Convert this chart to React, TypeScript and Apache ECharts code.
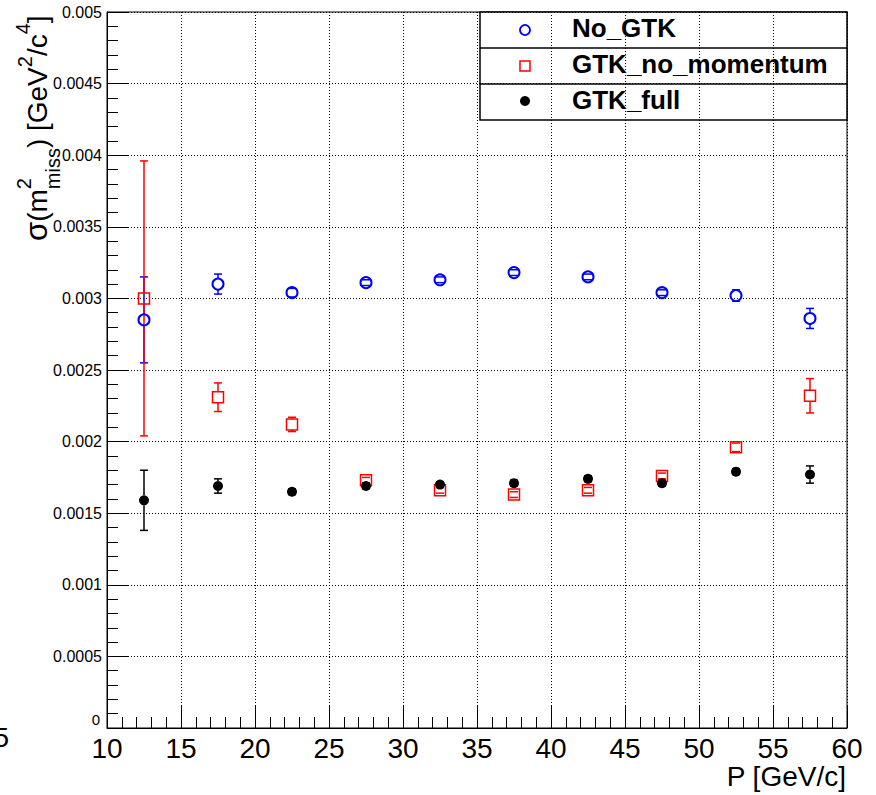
import React, { useEffect, useRef } from "react";
import * as echarts from "echarts";

// ---- data ----
const momentum = [12.5, 17.5, 22.5, 27.5, 32.5, 37.5, 42.5, 47.5, 52.5, 57.5];
const noGTK = [0.00285, 0.0031, 0.00304, 0.00311, 0.00313, 0.00318, 0.00315, 0.00304, 0.00302, 0.00286];
const noGTKErr = [0.0003, 0.00007, 0.00003, 0.00002, 0.00002, 0.00002, 0.00002, 0.00002, 0.00004, 0.00007];
const gtkNoMomentum = [0.003, 0.00231, 0.00212, 0.00173, 0.00166, 0.00163, 0.00166, 0.00176, 0.00196, 0.00232];
const gtkNoMomentumErr = [0.00096, 0.0001, 0.00005, 0.00002, 0.00002, 0.00002, 0.00002, 0.00002, 0.00003, 0.00012];
const gtkFull = [0.00159, 0.00169, 0.00165, 0.00169, 0.0017, 0.00171, 0.00174, 0.00171, 0.00179, 0.00177];
const gtkFullErr = [0.00021, 0.00005, 0.00002, 0.00002, 0.00002, 0.00002, 0.00002, 0.00002, 0.00002, 0.00006];
const seriesNames = ["No_GTK", "GTK_no_momentum", "GTK_full"];
const xTitle = "P [GeV/c]";

const FONT = '"Liberation Sans", Arial, Helvetica, sans-serif';

function makeMeasure() {
  const ctx = document.createElement("canvas").getContext("2d")!;
  return (text: string, size: number, weight = "normal") => {
    ctx.font = `${weight} ${size}px ${FONT}`;
    return ctx.measureText(text).width;
  };
}

function errorSeries(name: string, values: number[], errs: number[], color: string, r: number) {
  return {
    name: name + "_err",
    type: "custom",
    coordinateSystem: "cartesian2d",
    silent: true,
    z: 2,
    data: momentum.map((x, i) => [x, values[i], errs[i]]),
    renderItem: (params: any, api: any) => {
      const x = api.value(0);
      const y = api.value(1);
      const e = api.value(2);
      const c = api.coord([x, y]);
      const t = api.coord([x, y + e]);
      const b = api.coord([x, y - e]);
      const style = { stroke: color, lineWidth: 1.5 };
      const children: any[] = [];
      if (c[1] - t[1] > r) children.push({ type: "line", shape: { x1: c[0], y1: c[1] - r, x2: c[0], y2: t[1] }, style });
      if (b[1] - c[1] > r) children.push({ type: "line", shape: { x1: c[0], y1: c[1] + r, x2: c[0], y2: b[1] }, style });
      children.push({ type: "line", shape: { x1: c[0] - 4, y1: t[1], x2: c[0] + 4, y2: t[1] }, style });
      children.push({ type: "line", shape: { x1: c[0] - 4, y1: b[1], x2: c[0] + 4, y2: b[1] }, style });
      return { type: "group", children };
    },
  };
}

function buildYTitle(measure: (t: string, s: number, w?: string) => number) {
  const B = 28;
  const S = 20;
  const mid = (size: number, base: number) => base - 0.3465 * size;
  const children: any[] = [];
  let pos = 0;
  const put = (text: string, size: number, base: number) => {
    children.push({
      type: "text",
      x: pos,
      y: mid(size, base),
      style: { text, font: `${size}px ${FONT}`, fill: "#000", align: "left", verticalAlign: "middle" },
    });
  };
  put("σ", 31, 0);
  pos += measure("σ", 31);
  put("(m", B, 0);
  pos += measure("(m", B);
  put("2", S, -16);
  put("miss", S, 13);
  pos += Math.max(measure("2", S), measure("miss", S));
  put(") [GeV", B, 0);
  pos += measure(") [GeV", B);
  put("2", S, -15);
  pos += measure("2", S);
  put("/c", B, 0);
  pos += measure("/c", B);
  put("4", S, -17);
  pos += measure("4", S);
  put("]", B, 0);
  return { type: "group", x: 47, y: 241, rotation: Math.PI / 2, children };
}

export default function App() {
  const ref = useRef<HTMLDivElement>(null);
  useEffect(() => {
    if (!ref.current) return;
    const chart = echarts.init(ref.current, null, { renderer: "svg" });
    const measure = makeMeasure();
    const legendX = 480, legendY = 12, legendW = 367, rowH = 36;
    const legendRows = [0, 1, 2].map((i) => legendY + rowH * i + rowH / 2);
    const option: any = {
      animation: false,
      textStyle: { fontFamily: FONT },
      grid: { left: 107, right: 29, top: 12, bottom: 67, show: true, borderColor: "#000", borderWidth: 1, backgroundColor: "transparent" },
      xAxis: {
        type: "value",
        min: 10,
        max: 60,
        interval: 5,
        axisLine: { show: true, lineStyle: { color: "#000", width: 1 } },
        axisTick: { show: true, inside: true, length: 22, lineStyle: { color: "#000", width: 1 } },
        minorTick: { show: true, splitNumber: 5, length: 11, lineStyle: { color: "#000", width: 1 } },
        splitLine: { show: true, lineStyle: { color: "#000", type: [1, 2], width: 1 } },
        axisLabel: { color: "#000", fontSize: 28, margin: 6, fontFamily: FONT },
      },
      yAxis: {
        type: "value",
        min: 0,
        max: 0.005,
        interval: 0.0005,
        axisLine: { show: true, lineStyle: { color: "#000", width: 1 } },
        axisTick: { show: true, inside: true, length: 22, lineStyle: { color: "#000", width: 1 } },
        minorTick: { show: true, splitNumber: 5, length: 11, lineStyle: { color: "#000", width: 1 } },
        splitLine: { show: true, lineStyle: { color: "#000", type: [1, 2], width: 1 } },
        axisLabel: {
          color: "#000",
          fontSize: 16,
          margin: 5,
          fontFamily: FONT,
          formatter: (v: number) => (v === 0 ? "{z|0}" : String(+v.toFixed(5))),
          rich: { z: { fontSize: 15, color: "#000", fontFamily: FONT, padding: [0, 2, 18, 0] } },
        },
      },
      series: [
        errorSeries(seriesNames[0], noGTK, noGTKErr, "#0000ff", 5.5),
        errorSeries(seriesNames[1], gtkNoMomentum, gtkNoMomentumErr, "#ff0000", 5.5),
        errorSeries(seriesNames[2], gtkFull, gtkFullErr, "#000000", 5),
        {
          name: seriesNames[0],
          type: "scatter",
          z: 3,
          symbol: "circle",
          symbolSize: 11,
          itemStyle: { color: "rgba(0,0,0,0)", borderColor: "#0000ff", borderWidth: 2, opacity: 1 },
          data: momentum.map((x, i) => [x, noGTK[i]]),
        },
        {
          name: seriesNames[1],
          type: "scatter",
          z: 3,
          symbol: "rect",
          symbolSize: 11,
          itemStyle: { color: "rgba(0,0,0,0)", borderColor: "#ff0000", borderWidth: 1.5, opacity: 1 },
          data: momentum.map((x, i) => [x, gtkNoMomentum[i]]),
        },
        {
          name: seriesNames[2],
          type: "scatter",
          z: 3,
          symbol: "circle",
          symbolSize: 10,
          itemStyle: { color: "#000000", opacity: 1 },
          data: momentum.map((x, i) => [x, gtkFull[i]]),
        },
      ],
      graphic: [
        buildYTitle(measure),
        {
          type: "text",
          x: 846,
          y: 776,
          style: { text: xTitle, font: `28px ${FONT}`, fill: "#000", align: "right", verticalAlign: "middle" },
        },
        {
          type: "text",
          x: 9,
          y: 737,
          style: { text: "5", font: `28px ${FONT}`, fill: "#000", align: "right", verticalAlign: "middle" },
        },
        {
          type: "group",
          z: 100,
          children: [
            {
              type: "rect",
              shape: { x: legendX, y: legendY, width: legendW, height: rowH * 3 },
              style: { fill: "#fff", stroke: "#000", lineWidth: 1.5 },
            },
            { type: "line", shape: { x1: legendX, y1: legendY + rowH, x2: legendX + legendW, y2: legendY + rowH }, style: { stroke: "#000", lineWidth: 1.5 } },
            { type: "line", shape: { x1: legendX, y1: legendY + rowH * 2, x2: legendX + legendW, y2: legendY + rowH * 2 }, style: { stroke: "#000", lineWidth: 1.5 } },
            { type: "circle", shape: { cx: 525, cy: legendRows[0], r: 5 }, style: { fill: "none", stroke: "#0000ff", lineWidth: 1.8 } },
            { type: "rect", shape: { x: 520, y: legendRows[1] - 5, width: 10, height: 10 }, style: { fill: "none", stroke: "#ff0000", lineWidth: 1.5 } },
            { type: "circle", shape: { cx: 525, cy: legendRows[2] - 1, r: 5 }, style: { fill: "#000" } },
            ...seriesNames.map((n, i) => ({
              type: "text",
              x: 572,
              y: legendRows[i] - 2,
              style: { text: n, font: `bold 26px ${FONT}`, fill: "#000", align: "left", verticalAlign: "middle" },
            })),
          ],
        },
      ],
    };
    chart.setOption(option);
    return () => chart.dispose();
  }, []);
  return <div ref={ref} style={{ position: "fixed", left: 0, top: 0, width: 876, height: 795, background: "#fff" }} />;
}
